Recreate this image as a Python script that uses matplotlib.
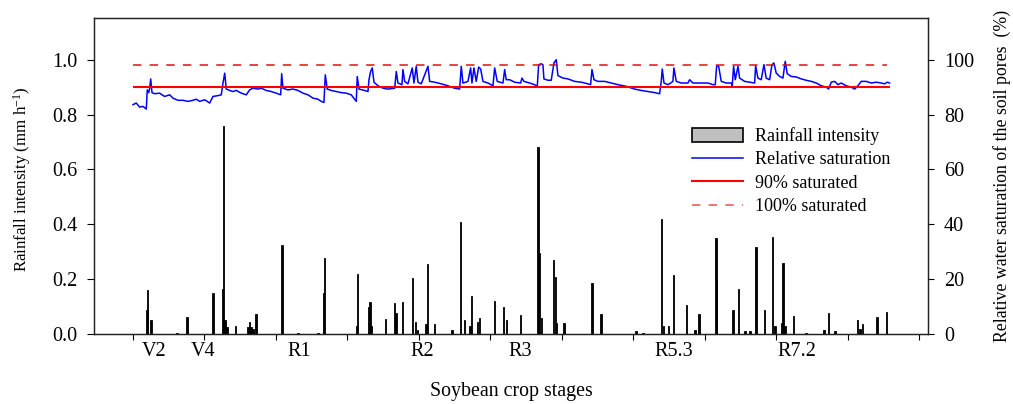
import matplotlib
matplotlib.use("Agg")
import matplotlib.pyplot as plt
from matplotlib.lines import Line2D
from matplotlib.patches import Patch

plt.rcParams["font.family"] = ["Liberation Serif", "DejaVu Serif"]
plt.rcParams["mathtext.fontset"] = "custom"
plt.rcParams["mathtext.rm"] = "Liberation Serif"
plt.rcParams["mathtext.it"] = "Liberation Serif:italic"

# rainfall events: day after start, intensity (mm h-1)
rain_day = [1.96, 2.06, 2.52, 6.15, 7.55, 11.19, 12.55, 12.69, 12.87, 13.15,
            14.36, 16.08, 16.27, 16.50, 16.78, 17.20, 20.84, 23.08, 25.87, 26.62,
            26.81, 31.28, 31.37, 32.91, 33.15, 33.38, 35.34, 36.60, 36.78, 37.72,
            39.06, 39.54, 39.82, 40.98, 41.16, 42.20, 44.62, 45.83, 46.39, 47.13,
            47.37, 48.21, 48.49, 50.53, 51.85, 52.27, 54.22, 56.64, 56.78, 57.16,
            58.84, 59.06, 59.26, 60.28, 64.20, 65.45, 70.35, 71.33, 73.89, 74.17,
            74.87, 75.57, 77.44, 78.60, 79.16, 81.54, 81.64, 83.92, 84.71, 85.59,
            86.29, 87.13, 88.35, 89.47, 89.79, 90.73, 90.91, 91.19, 92.41, 94.13,
            96.64, 97.30, 98.18, 101.36, 101.68, 102.00, 104.06, 105.41]
rain_val = [0.088, 0.16, 0.05, 0.005, 0.062, 0.15, 0.165, 0.76, 0.05, 0.025,
            0.03, 0.025, 0.045, 0.025, 0.02, 0.073, 0.325, 0.003, 0.005, 0.15,
            0.276, 0.03, 0.219, 0.10, 0.116, 0.03, 0.055, 0.112, 0.075, 0.118,
            0.203, 0.044, 0.015, 0.035, 0.255, 0.035, 0.015, 0.41, 0.05, 0.03,
            0.139, 0.045, 0.06, 0.122, 0.097, 0.05, 0.07, 0.68, 0.295, 0.06,
            0.27, 0.209, 0.04, 0.04, 0.185, 0.073, 0.01, 0.005, 0.42, 0.03,
            0.03, 0.215, 0.106, 0.015, 0.073, 0.35, 0.197, 0.088, 0.165, 0.01,
            0.01, 0.316, 0.088, 0.355, 0.03, 0.04, 0.258, 0.03, 0.066, 0.005,
            0.015, 0.075, 0.01, 0.052, 0.02, 0.035, 0.061, 0.079]

# relative saturation of soil pores (%)
sat_day = [0.0, 0.46, 0.94, 1.40, 1.86, 2.0, 2.2, 2.34, 2.48, 2.66,
           3.03, 3.73, 4.43, 5.13, 5.59, 6.29, 6.99, 7.69, 8.39, 8.85,
           9.33, 10.03, 10.73, 11.19, 11.89, 12.35, 12.59, 12.83, 13.05, 13.52,
           13.99, 14.45, 15.15, 15.85, 16.32, 16.78, 17.48, 17.94, 18.64, 19.34,
           20.04, 20.66, 20.80, 20.98, 21.68, 22.38, 23.08, 23.78, 24.48, 25.17,
           25.87, 26.34, 26.71, 26.90, 27.17, 27.73, 28.43, 29.13, 29.83, 30.53,
           31.23, 31.37, 31.61, 32.41, 32.87, 33.01, 33.24, 33.47, 33.71, 34.27,
           34.97, 35.66, 36.60, 36.83, 37.06, 37.62, 37.76, 38.0, 38.46, 39.06,
           39.30, 39.62, 39.86, 40.32, 41.26, 41.50, 42.20, 43.12, 44.06, 44.99,
           45.69, 45.92, 46.15, 46.53, 46.85, 47.23, 47.41, 47.69, 48.01, 48.35,
           48.63, 48.95, 49.65, 50.35, 50.59, 50.95, 51.75, 51.99, 52.21, 52.69,
           53.38, 54.22, 54.41, 54.69, 55.48, 56.18, 56.55, 56.74, 57.10, 57.34,
           57.48, 58.04, 58.50, 58.88, 59.20, 59.44, 60.14, 60.84, 61.78, 62.70,
           63.64, 64.01, 64.20, 64.48, 65.03, 65.97, 66.90, 67.83, 68.99, 70.17,
           71.09, 72.03, 72.97, 73.66, 73.89, 74.03, 74.27, 74.83, 75.20, 75.52,
           75.66, 75.99, 76.69, 77.62, 77.86, 78.32, 79.30, 79.72, 80.42, 81.12,
           81.44, 81.64, 81.92, 82.28, 82.98, 83.68, 83.82, 84.01, 84.24, 84.62,
           84.85, 85.55, 86.25, 86.95, 87.09, 87.41, 87.87, 88.25, 88.57, 89.05,
           89.37, 89.65, 89.97, 90.45, 90.91, 91.23, 91.51, 92.07, 92.77, 93.47,
           94.17, 94.87, 95.57, 96.27, 96.97, 97.30, 97.66, 98.14, 98.60, 99.06,
           99.76, 100.46, 100.94, 101.40, 101.86, 102.56, 103.26, 103.97, 104.66, 105.13,
           105.49, 105.83]
sat_val = [83.6, 84.2, 82.7, 83.0, 82.0, 89.0, 88.0, 89.6, 93.0, 88.0,
           87.6, 87.8, 86.6, 87.2, 86.0, 85.2, 85.2, 84.8, 85.2, 85.6,
           84.8, 85.4, 84.2, 86.6, 86.9, 87.2, 91.5, 95.1, 89.3, 88.8,
           88.4, 88.8, 87.8, 87.2, 89.0, 89.6, 89.3, 89.6, 88.8, 88.4,
           87.8, 87.2, 94.9, 89.6, 89.0, 89.3, 88.8, 87.8, 87.2, 86.0,
           85.6, 84.8, 84.4, 94.5, 89.3, 88.8, 88.4, 88.0, 87.8, 87.2,
           84.8, 93.9, 89.3, 88.8, 88.4, 92.7, 95.7, 97.0, 91.8, 90.5,
           89.6, 89.3, 89.6, 95.7, 91.5, 90.9, 96.4, 92.1, 91.2, 97.0,
           91.5, 97.6, 91.8, 91.2, 97.6, 92.1, 91.8, 91.2, 90.5, 89.6,
           89.3, 97.6, 91.5, 91.8, 92.1, 97.0, 91.5, 97.0, 92.1, 97.3,
           96.6, 92.1, 91.5, 90.5, 97.0, 92.1, 91.5, 96.4, 92.7, 92.7,
           91.8, 91.5, 93.3, 92.1, 91.5, 90.9, 90.3, 98.2, 98.5, 98.2,
           93.0, 92.5, 92.5, 98.8, 100.0, 94.2, 93.3, 93.0, 92.1, 91.8,
           91.2, 90.9, 96.4, 92.7, 92.1, 92.1, 91.5, 90.9, 90.3, 89.3,
           88.8, 88.4, 88.0, 87.6, 92.1, 96.6, 91.5, 90.9, 91.5, 92.1,
           97.0, 92.1, 91.5, 91.5, 92.7, 91.5, 91.5, 91.5, 91.5, 90.9,
           90.9, 97.8, 97.6, 92.1, 91.5, 91.5, 90.5, 97.6, 92.7, 97.6,
           93.3, 92.1, 91.8, 91.5, 97.8, 93.3, 92.7, 98.2, 93.3, 92.7,
           98.2, 98.8, 95.1, 93.9, 93.3, 99.4, 94.9, 93.9, 93.7, 93.0,
           92.5, 92.1, 91.5, 90.5, 90.0, 89.3, 91.8, 92.1, 90.9, 91.5,
           90.5, 90.0, 89.3, 90.5, 92.1, 92.1, 91.5, 91.8, 91.5, 91.2,
           91.8, 91.5]

stage_names = ["V2", "V4", "R1", "R2", "R3", "R5.3", "R7.2"]
stage_days = [3.0, 9.8, 23.3, 40.5, 54.1, 75.7, 92.8]
sat90 = 90
sat100 = 98

fig = plt.figure(figsize=(10.13, 4.04), dpi=100)
ax = fig.add_axes([0.0928, 0.1733, 0.8233, 0.7821])
ax2 = ax.twinx()

ax.bar(rain_day, rain_val, width=0.2, color="black", edgecolor="black", linewidth=0.6)
ax2.plot(sat_day, sat_val, color="#0000ff", lw=1.1)
ax2.hlines(sat90, 0, sat_day[-1], color="#ff0000", lw=1.5)
ax2.hlines(sat100, 0, sat_day[-1] - 0.4, color="#e01010", lw=1.1, linestyles=(0, (5.5, 5.4)))

ax.set_xlim(-5.45, 111.2)
ax.set_ylim(0, 1.152)
ax2.set_ylim(0, 115.2)
ax.set_yticks([0, 0.2, 0.4, 0.6, 0.8, 1.0])
ax.set_yticklabels(["0.0", "0.2", "0.4", "0.6", "0.8", "1.0"])
ax2.set_yticks([0, 20, 40, 60, 80, 100])
ax.set_xticks(range(0, 111, 10))
ax.set_xticklabels([])
ax.set_xticks(stage_days, minor=True)
ax.set_xticklabels(stage_names, minor=True)
ax.tick_params(axis="x", which="minor", length=0, pad=6, labelsize=14.5)
ax.tick_params(axis="x", which="major", length=4.5, width=0.8)
ax.tick_params(axis="y", length=4.8, width=0.8, pad=7, labelsize=14.5)
ax2.tick_params(axis="y", length=4.5, width=0.8, pad=7, labelsize=14.5)
for a in (ax, ax2):
    for s in a.spines.values():
        s.set_linewidth(0.9)
        s.set_color("#222222")

ax.set_ylabel(r"Rainfall intensity (mm h$^{-1}$)", fontsize=12.2)
ax.yaxis.set_label_coords(-0.073, 0.49)
ax2.set_ylabel("Relative water saturation of the soil pores  (%)", fontsize=12.8, rotation=90)
ax2.yaxis.set_label_coords(1.078, 0.5)
ax.set_xlabel("Soybean crop stages", fontsize=14.3)
ax.xaxis.set_label_coords(0.5, -0.152)

handles = [
    Patch(facecolor="#c0c0c0", edgecolor="black", linewidth=1.2),
    Line2D([], [], color="#0000ff", lw=1.1),
    Line2D([], [], color="#ff0000", lw=1.5),
    Line2D([], [], color="#f05050", lw=1.1, linestyle=(0, (5.5, 5.4))),
]
labels = ["Rainfall intensity", "Relative saturation", "90% saturated", "100% saturated"]
ax2.legend(handles, labels, loc="upper left", bbox_to_anchor=(0.717, 0.655),
           frameon=False, fontsize=13, handlelength=2.8, handleheight=0.8,
           handletextpad=0.7, labelspacing=0.35, borderpad=0, borderaxespad=0)

fig.savefig("out.png", dpi=100)
